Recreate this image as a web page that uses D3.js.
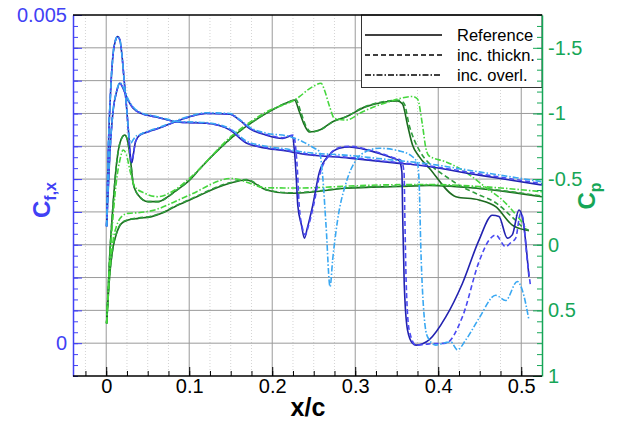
<!DOCTYPE html>
<html>
<head>
<meta charset="utf-8">
<script src="https://cdn.jsdelivr.net/npm/d3@7"></script>
<style>
  body { margin: 0; background: #fff; }
  svg text { font-family: "Liberation Sans", Arial, Helvetica, sans-serif; }
</style>
</head>
<body>
<div id="chart"></div>
<script>
// ---- data: [x/c, value] ----
const xTicks = [0, 0.1, 0.2, 0.3, 0.4, 0.5];
const cfTickLabels = [0, 0.005];
const cpTickLabels = [-1.5, -1, -0.5, 0, 0.5, 1];
const legendLabels = ['Reference', 'inc. thickn.', 'inc. overl.'];

// skin friction, upper side (with transition drops)
const cfUpperRef = [[0.0005,0.00178],[0.0024,0.00289],[0.0056,0.00391],[0.0084,0.00442],[0.0113,0.00462],[0.0137,0.00467],[0.0165,0.00462],[0.0192,0.00436],[0.0216,0.00401],[0.0245,0.0036],[0.0273,0.00315],[0.0297,0.00279],[0.0309,0.00275],[0.0329,0.00289],[0.0353,0.00307],[0.0405,0.00317],[0.0505,0.00322],[0.0666,0.00329],[0.0826,0.00337],[0.1006,0.00345],[0.1207,0.0035],[0.1487,0.00349],[0.1607,0.0034],[0.1727,0.00327],[0.1928,0.00317],[0.2127,0.00312],[0.224,0.00316],[0.2268,0.00292],[0.2288,0.00256],[0.2308,0.0021],[0.2352,0.0018],[0.2388,0.0016],[0.2424,0.00176],[0.2488,0.0021],[0.2569,0.00261],[0.2689,0.00287],[0.2809,0.00297],[0.2929,0.00299],[0.3089,0.00296],[0.3289,0.00289],[0.345,0.00282],[0.353,0.00278],[0.3562,0.00261],[0.3572,0.00193],[0.359,0.00092],[0.363,0.0002],[0.369,0.0],[0.3734,-0.00003],[0.389,0.00005],[0.4091,0.0004],[0.4291,0.00091],[0.4491,0.00157],[0.4651,0.00195],[0.4732,0.00193],[0.4832,0.0016],[0.4892,0.00165],[0.4972,0.00203],[0.5012,0.00193],[0.5093,0.00101]];
const cfUpperThick = [[0.0005,0.00178],[0.0024,0.00289],[0.0056,0.00391],[0.0084,0.00442],[0.0113,0.00462],[0.0137,0.00467],[0.0165,0.00462],[0.0192,0.00436],[0.0216,0.00401],[0.0245,0.0036],[0.0273,0.00315],[0.0297,0.0028],[0.0309,0.00277],[0.0329,0.0029],[0.0353,0.00307],[0.0405,0.00317],[0.0505,0.00322],[0.0666,0.00329],[0.0826,0.00337],[0.1006,0.00345],[0.1207,0.0035],[0.1487,0.00349],[0.1607,0.0034],[0.1727,0.00328],[0.1928,0.00318],[0.2127,0.00313],[0.2255,0.00317],[0.2285,0.00295],[0.2305,0.0026],[0.2325,0.0021],[0.2365,0.00175],[0.2398,0.00165],[0.2435,0.00178],[0.2498,0.0021],[0.2575,0.00258],[0.2689,0.00287],[0.2809,0.00298],[0.2929,0.003],[0.3089,0.00297],[0.3289,0.0029],[0.345,0.00283],[0.3555,0.00278],[0.3588,0.0026],[0.3598,0.0019],[0.3614,0.00092],[0.365,0.0002],[0.3731,-0.00003],[0.389,-0.00001],[0.4091,0.0],[0.4291,0.0004],[0.4491,0.00124],[0.4612,0.00157],[0.4692,0.00165],[0.4812,0.00147],[0.4873,0.00153],[0.4933,0.0016],[0.4993,0.00198],[0.502,0.00191],[0.5072,0.00127],[0.5113,0.00086]];
const cfUpperOverl = [[0.0005,0.00178],[0.0024,0.00289],[0.0056,0.00391],[0.0084,0.00442],[0.0113,0.00462],[0.0137,0.00467],[0.0165,0.00462],[0.0192,0.00436],[0.0216,0.00401],[0.0245,0.0036],[0.0273,0.00318],[0.0297,0.00305],[0.0325,0.0031],[0.0365,0.00316],[0.0405,0.00318],[0.0505,0.00323],[0.0666,0.0033],[0.0826,0.00338],[0.1006,0.00346],[0.1207,0.00351],[0.1487,0.0035],[0.1607,0.00341],[0.1727,0.00329],[0.1928,0.0032],[0.2208,0.00315],[0.2368,0.00307],[0.2508,0.00297],[0.2568,0.00292],[0.2608,0.00254],[0.2649,0.00178],[0.2697,0.00086],[0.2728,0.00127],[0.2788,0.00188],[0.2889,0.00244],[0.301,0.00279],[0.313,0.00292],[0.329,0.00297],[0.353,0.00293],[0.369,0.00284],[0.375,0.00274],[0.377,0.00244],[0.3791,0.00142],[0.3831,0.0004],[0.387,0.0001],[0.3971,-0.00003],[0.4091,0.00001],[0.4151,0.00002],[0.4231,-0.0001],[0.4332,0.00005],[0.4492,0.00038],[0.4692,0.00073],[0.4812,0.00065],[0.4952,0.00094],[0.5012,0.00081],[0.5093,0.00035]];

// skin friction, lower side
const cfLowerRef = [[0.0005,0.00178],[0.0044,0.00289],[0.0084,0.00355],[0.0125,0.00383],[0.0165,0.00396],[0.0204,0.00388],[0.0264,0.0037],[0.0325,0.00358],[0.0425,0.0035],[0.0585,0.00345],[0.0745,0.0034],[0.0846,0.00337],[0.1207,0.00335],[0.1487,0.00325],[0.1688,0.00305],[0.1928,0.00297],[0.2208,0.00292],[0.2328,0.00289],[0.2929,0.00282],[0.353,0.00274],[0.3771,0.00271],[0.4491,0.00256],[0.5249,0.00241]];
const cfLowerThick = [[0.0005,0.00178],[0.0044,0.00289],[0.0084,0.00355],[0.0125,0.00383],[0.0165,0.00396],[0.0204,0.00388],[0.0264,0.0037],[0.0325,0.00358],[0.0425,0.0035],[0.0585,0.00345],[0.0745,0.0034],[0.0846,0.00337],[0.1207,0.00335],[0.1487,0.00326],[0.1688,0.00306],[0.1928,0.00298],[0.2208,0.00293],[0.2328,0.0029],[0.2929,0.00283],[0.353,0.00275],[0.3771,0.00272],[0.4491,0.00258],[0.5249,0.00243]];
const cfLowerOverl = [[0.0005,0.00178],[0.0044,0.0029],[0.0084,0.00356],[0.0125,0.00384],[0.0165,0.00397],[0.0204,0.0039],[0.0264,0.00372],[0.0325,0.0036],[0.0425,0.00351],[0.0585,0.00346],[0.0745,0.00341],[0.0846,0.00338],[0.1207,0.00336],[0.1487,0.00327],[0.1688,0.00308],[0.1928,0.003],[0.2208,0.00295],[0.2328,0.00292],[0.2929,0.00286],[0.353,0.00278],[0.3771,0.00275],[0.4491,0.00261],[0.5249,0.00246]];

// pressure coefficient, upper side
const cpUpperRef = [[0.0005,0.599],[0.0044,0.065],[0.0084,-0.316],[0.0125,-0.62],[0.0177,-0.798],[0.0225,-0.836],[0.0264,-0.773],[0.0297,-0.62],[0.0325,-0.468],[0.0385,-0.379],[0.0505,-0.328],[0.0625,-0.328],[0.0745,-0.366],[0.0826,-0.404],[0.1006,-0.493],[0.1126,-0.577],[0.1526,-0.823],[0.1928,-1.001],[0.2208,-1.09],[0.2268,-1.102],[0.2328,-1.011],[0.2388,-0.912],[0.2448,-0.859],[0.2569,-0.874],[0.2728,-0.937],[0.2889,-0.975],[0.313,-1.052],[0.351,-1.095],[0.357,-1.072],[0.363,-0.912],[0.369,-0.76],[0.377,-0.671],[0.389,-0.585],[0.4212,-0.366],[0.4491,-0.341],[0.4692,-0.29],[0.4892,-0.15],[0.5053,-0.112],[0.5093,-0.107]];
const cpUpperThick = [[0.0005,0.599],[0.0044,0.065],[0.0084,-0.316],[0.0125,-0.62],[0.0177,-0.798],[0.0225,-0.836],[0.0264,-0.773],[0.0297,-0.62],[0.0325,-0.468],[0.0385,-0.379],[0.0505,-0.328],[0.0625,-0.328],[0.0745,-0.366],[0.0826,-0.404],[0.1006,-0.493],[0.1126,-0.577],[0.1526,-0.823],[0.1928,-1.001],[0.2208,-1.09],[0.2285,-1.105],[0.2345,-1.01],[0.2405,-0.905],[0.247,-0.86],[0.2569,-0.872],[0.2728,-0.935],[0.2889,-0.975],[0.313,-1.055],[0.353,-1.1],[0.359,-1.075],[0.365,-0.91],[0.371,-0.8],[0.379,-0.7],[0.389,-0.62],[0.4091,-0.52],[0.4291,-0.44],[0.4491,-0.38],[0.4692,-0.32],[0.4892,-0.21],[0.5053,-0.12],[0.5093,-0.11]];
const cpUpperOverl = [[0.0005,0.599],[0.0044,0.116],[0.0084,-0.226],[0.0125,-0.493],[0.0165,-0.645],[0.0204,-0.722],[0.0245,-0.684],[0.0285,-0.569],[0.0345,-0.442],[0.0465,-0.392],[0.0625,-0.366],[0.0826,-0.417],[0.1006,-0.508],[0.1526,-0.836],[0.1928,-1.011],[0.2288,-1.11],[0.2488,-1.204],[0.2589,-1.23],[0.2629,-1.179],[0.2689,-1.057],[0.2749,-0.963],[0.2889,-0.95],[0.3089,-1.013],[0.3409,-1.09],[0.369,-1.129],[0.375,-1.11],[0.381,-0.912],[0.3851,-0.735],[0.389,-0.676],[0.4091,-0.632],[0.4291,-0.569],[0.4612,-0.417],[0.4772,-0.341],[0.4972,-0.201],[0.5053,-0.137]];

// pressure coefficient, lower side
const cpLowerRef = [[0.0005,0.599],[0.0044,0.218],[0.0084,0.015],[0.0125,-0.087],[0.0185,-0.163],[0.0264,-0.188],[0.0385,-0.201],[0.0546,-0.214],[0.0666,-0.239],[0.0826,-0.29],[0.1006,-0.341],[0.1487,-0.468],[0.1688,-0.493],[0.1928,-0.417],[0.2208,-0.392],[0.2328,-0.394],[0.2889,-0.43],[0.353,-0.444],[0.389,-0.451],[0.4491,-0.428],[0.5249,-0.366]];
const cpLowerThick = [[0.0005,0.599],[0.0044,0.215],[0.0084,0.012],[0.0125,-0.09],[0.0185,-0.166],[0.0264,-0.19],[0.0385,-0.204],[0.0546,-0.217],[0.0666,-0.242],[0.0826,-0.293],[0.1006,-0.345],[0.1487,-0.472],[0.1688,-0.496],[0.1928,-0.42],[0.2208,-0.396],[0.2328,-0.398],[0.2889,-0.433],[0.353,-0.447],[0.389,-0.454],[0.4491,-0.432],[0.5249,-0.37]];
const cpLowerOverl = [[0.0005,0.599],[0.0044,0.193],[0.0084,-0.036],[0.0125,-0.143],[0.0185,-0.214],[0.0264,-0.239],[0.0385,-0.244],[0.0585,-0.265],[0.0826,-0.328],[0.1006,-0.379],[0.1511,-0.505],[0.1928,-0.434],[0.2328,-0.432],[0.2929,-0.447],[0.329,-0.455],[0.389,-0.459],[0.4491,-0.444],[0.5249,-0.404]];

// ---- figure ----
const width = 618, height = 421;
const margin = {top: 15, right: 76, bottom: 45, left: 73};
const blue = '#4141f5', green = '#16a657';
const styles = [
    {dash: null, cf: '#2222b0', cp: '#1c6a1f'},
    {dash: '5,3', cf: '#4a4af2', cp: '#2f9d3c'},
    {dash: '6,2,1.5,2', cf: '#3aa8f2', cp: '#45d63d'}
];

const svg = d3.select('#chart')
    .append('svg')
    .attr('width', width)
    .attr('height', height);

const x = d3.scaleLinear([-0.04, 0.525], [margin.left, width - margin.right]);
const yCf = d3.scaleLinear([-0.0005, 0.005], [height - margin.bottom, margin.top]);
const yCp = d3.scaleLinear([1, -1.75], [height - margin.bottom, margin.top]);
const x0 = margin.left, x1 = width - margin.right;
const y0 = margin.top, y1 = height - margin.bottom;

svg.append('clipPath').attr('id', 'plot')
    .append('rect')
    .attr('x', x0).attr('y', y0)
    .attr('width', x1 - x0).attr('height', y1 - y0);

// grid
const grid = svg.append('g');
const xMinor = d3.range(-1, 21).map(i => i / 40);
grid.selectAll('.vminor')
    .data(xMinor.filter((d, i) => (i - 1) % 4 !== 0))
    .join('line')
    .attr('x1', d => x(d)).attr('x2', d => x(d))
    .attr('y1', y0).attr('y2', y1)
    .attr('stroke', '#d4d4d4').attr('stroke-width', 1)
    .attr('stroke-dasharray', '1,2');
grid.selectAll('.vmajor')
    .data(xTicks)
    .join('line')
    .attr('x1', d => x(d)).attr('x2', d => x(d))
    .attr('y1', y0).attr('y2', y1)
    .attr('stroke', '#9a9a9a').attr('stroke-width', 1);
grid.selectAll('.hmajor')
    .data(d3.range(0, 10).map(i => i * 0.0005))
    .join('line')
    .attr('x1', x0).attr('x2', x1)
    .attr('y1', d => yCf(d)).attr('y2', d => yCf(d))
    .attr('stroke', '#9a9a9a').attr('stroke-width', 1);

// curves
const plot = svg.append('g').attr('clip-path', 'url(#plot)');
const lineCf = d3.line().curve(d3.curveMonotoneX).x(d => x(d[0])).y(d => yCf(d[1]));
const lineCp = d3.line().curve(d3.curveMonotoneX).x(d => x(d[0])).y(d => yCp(d[1]));

const cpSets = [[cpUpperRef, cpLowerRef], [cpUpperThick, cpLowerThick], [cpUpperOverl, cpLowerOverl]];
const cfSets = [[cfUpperRef, cfLowerRef], [cfUpperThick, cfLowerThick], [cfUpperOverl, cfLowerOverl]];

cpSets.forEach((set, i) => {
    set.forEach(data => {
        plot.append('path')
            .attr('d', lineCp(data))
            .attr('fill', 'none')
            .attr('stroke', styles[i].cp)
            .attr('stroke-width', 1.6)
            .attr('stroke-dasharray', styles[i].dash);
    });
});
cfSets.forEach((set, i) => {
    set.forEach(data => {
        plot.append('path')
            .attr('d', lineCf(data))
            .attr('fill', 'none')
            .attr('stroke', styles[i].cf)
            .attr('stroke-width', 1.6)
            .attr('stroke-dasharray', styles[i].dash);
    });
});

// legend
const legend = svg.append('g');
legend.append('rect')
    .attr('x', 361.5).attr('y', y0)
    .attr('width', x1 - 361.5).attr('height', 72.5)
    .attr('fill', '#fff').attr('stroke', '#333').attr('stroke-width', 1);
legendLabels.forEach((label, i) => {
    const ly = 35 + i * 20;
    legend.append('line')
        .attr('x1', 365).attr('x2', 442)
        .attr('y1', ly).attr('y2', ly)
        .attr('stroke', '#000').attr('stroke-width', 1.4)
        .attr('stroke-dasharray', styles[i].dash);
    legend.append('text')
        .attr('x', 457).attr('y', ly)
        .attr('dy', '0.36em')
        .style('font-size', '16.5px')
        .text(label);
});

// axes
const fmt = d => String(d);

// bottom
svg.append('g')
    .attr('transform', `translate(0,${y1})`)
    .call(d3.axisBottom(x).tickValues(xTicks).tickSize(0).tickPadding(3).tickFormat(fmt))
    .call(g => g.select('.domain').remove())
    .call(g => g.selectAll('text').style('font-size', '20px').attr('fill', '#000')
        .style('font-family', '"Liberation Sans", Arial, sans-serif'));
svg.append('g')
    .attr('transform', `translate(0,${y1})`)
    .call(d3.axisTop(x).tickValues(xTicks).tickSize(9).tickFormat(''))
    .call(g => g.select('.domain').remove());
svg.append('g')
    .attr('transform', `translate(0,${y1})`)
    .call(d3.axisTop(x).tickValues(xMinor).tickSize(5).tickFormat(''))
    .call(g => g.select('.domain').remove());

// left (Cf)
const cfMinor = d3.range(0, 34).map(i => -0.0005 + i * 0.0005 / 3);
svg.append('g')
    .attr('transform', `translate(${x0},0)`)
    .call(d3.axisRight(yCf).tickValues(cfMinor).tickSize(5).tickFormat(''))
    .call(g => g.select('.domain').remove())
    .call(g => g.selectAll('line').attr('stroke', blue));
svg.append('g')
    .attr('transform', `translate(${x0},0)`)
    .call(d3.axisRight(yCf).tickValues(d3.range(0, 11).map(i => i * 0.0005)).tickSize(9).tickFormat(''))
    .call(g => g.select('.domain').remove())
    .call(g => g.selectAll('line').attr('stroke', blue));
svg.append('g')
    .attr('transform', `translate(${x0},0)`)
    .call(d3.axisLeft(yCf).tickValues(cfTickLabels).tickSize(0).tickPadding(6).tickFormat(fmt))
    .call(g => g.select('.domain').attr('stroke', blue).attr('stroke-width', 1.5))
    .call(g => g.selectAll('text').style('font-size', '20px').attr('fill', blue)
        .style('font-family', '"Liberation Sans", Arial, sans-serif'));

// right (Cp)
const cpMinor = d3.range(0, 34).map(i => 1 - i * 0.25 / 3);
svg.append('g')
    .attr('transform', `translate(${x1},0)`)
    .call(d3.axisLeft(yCp).tickValues(cpMinor).tickSize(5).tickFormat(''))
    .call(g => g.select('.domain').remove())
    .call(g => g.selectAll('line').attr('stroke', green));
svg.append('g')
    .attr('transform', `translate(${x1},0)`)
    .call(d3.axisLeft(yCp).tickValues(cpTickLabels).tickSize(9).tickFormat(''))
    .call(g => g.select('.domain').remove())
    .call(g => g.selectAll('line').attr('stroke', green));
svg.append('g')
    .attr('transform', `translate(${x1},0)`)
    .call(d3.axisRight(yCp).tickValues(cpTickLabels).tickSize(0).tickPadding(6).tickFormat(fmt))
    .call(g => g.select('.domain').attr('stroke', green).attr('stroke-width', 1.5))
    .call(g => g.selectAll('text').style('font-size', '20px').attr('fill', green)
        .style('font-family', '"Liberation Sans", Arial, sans-serif'));

// frame top & bottom
svg.append('line').attr('x1', x0).attr('x2', x1).attr('y1', y0).attr('y2', y0)
    .attr('stroke', '#000').attr('stroke-width', 1.5);
svg.append('line').attr('x1', x0).attr('x2', x1).attr('y1', y1).attr('y2', y1)
    .attr('stroke', '#000').attr('stroke-width', 1.5);

// axis titles
svg.append('text')
    .attr('x', 308).attr('y', 416)
    .attr('text-anchor', 'middle')
    .style('font-size', '25px').style('font-weight', 'bold')
    .text('x/c');

const cfTitle = svg.append('text')
    .attr('transform', 'translate(50,200)rotate(-90)')
    .attr('text-anchor', 'middle')
    .attr('fill', blue)
    .style('font-size', '24px').style('font-weight', 'bold');
cfTitle.append('tspan').text('C');
cfTitle.append('tspan').attr('dy', 6).style('font-size', '16px').text('f,x');

const cpTitle = svg.append('text')
    .attr('transform', 'translate(595,196)rotate(-90)')
    .attr('text-anchor', 'middle')
    .attr('fill', green)
    .style('font-size', '24px').style('font-weight', 'bold');
cpTitle.append('tspan').text('C');
cpTitle.append('tspan').attr('dy', 6).style('font-size', '16px').text('p');
</script>
</body>
</html>
